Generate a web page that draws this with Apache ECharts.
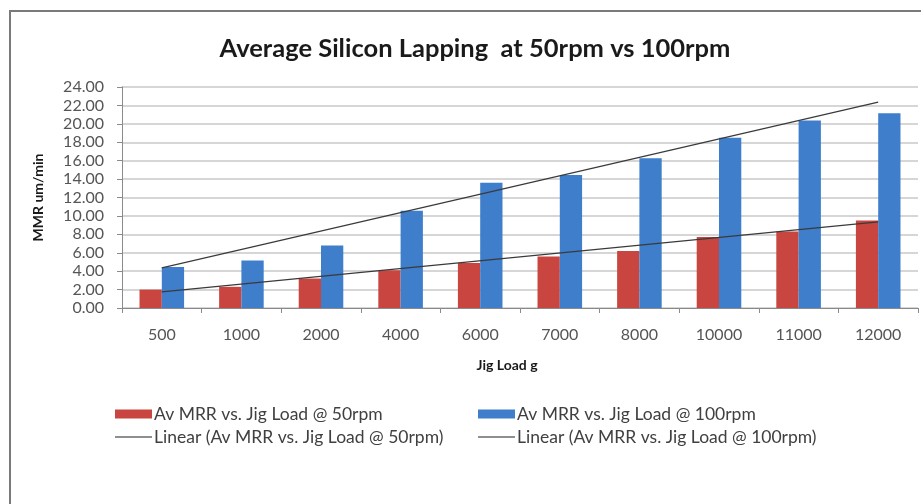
<!DOCTYPE html>
<html>
<head>
<meta charset="utf-8">
<script src="https://cdn.jsdelivr.net/npm/echarts@6/dist/echarts.min.js"></script>
<style>
html,body{margin:0;padding:0;background:#fff;}
#c{width:921px;height:504px;}
</style>
</head>
<body>
<div id="c"></div>
<script>
var categories = ['500','1000','2000','4000','6000','7000','8000','10000','11000','12000'];
var mrr50 = [2.0, 2.3, 3.2, 4.1, 4.9, 5.6, 6.2, 7.7, 8.3, 9.5];
var mrr100 = [4.45, 5.15, 6.8, 10.55, 13.6, 14.45, 16.25, 18.5, 20.35, 21.15];
var trend50 = [1.75, null, null, null, null, null, null, null, null, 9.35];
var trend100 = [4.35, null, null, null, null, null, null, null, null, 22.35];
var yTicks = [0, 24, 2];

var names = ['Av MRR vs. Jig Load @ 50rpm', 'Av MRR vs. Jig Load @ 100rpm',
  'Linear (Av MRR vs. Jig Load @ 50rpm)', 'Linear (Av MRR vs. Jig Load @ 100rpm)'];
var FONT = 'Lato';
var RED = '#c8463f', BLUE = '#3e7ecb', TREND = '#3a3a3a';

var chart = echarts.init(document.getElementById('c'), null, {renderer: 'canvas'});
function leg(name, left, top, isLine) {
  return {
    data: [{name: name, icon: 'rect', itemStyle: isLine ? {color: '#6a6a6a'} : undefined}],
    left: left, top: top, orient: 'horizontal',
    itemWidth: 37, itemHeight: isLine ? 1.5 : 9, itemGap: 4,
    textStyle: {fontFamily: FONT, fontSize: 17.5, color: '#404040', padding: [0, 0, 0, -3]},
    padding: 0, selectedMode: false
  };
}
chart.setOption({
  animation: false,
  backgroundColor: '#fff',
  graphic: [{
    type: 'rect', shape: {x: 10, y: 11, width: 940, height: 520},
    style: {fill: 'none', stroke: '#7a7a7a', lineWidth: 2}, silent: true
  }],
  title: {
    text: 'Average Silicon Lapping  at 50rpm vs 100rpm',
    left: 470, top: 31, textAlign: 'center',
    textStyle: {fontFamily: FONT, fontSize: 25.5, fontWeight: 'bold', color: '#1a1a1a'}
  },
  legend: [
    leg(names[0], 115, 405, false),
    leg(names[1], 478, 405, false),
    leg(names[2], 115, 428, true),
    leg(names[3], 478, 428, true)
  ],
  grid: {left: 122, right: 3, top: 87, bottom: 196, containLabel: false},
  xAxis: {
    type: 'category', data: categories,
    name: 'Jig Load g', nameLocation: 'middle', nameGap: 50,
    nameTextStyle: {fontFamily: FONT, fontSize: 14, fontWeight: 'bold', color: '#1a1a1a',
      padding: [0, 26, 0, 0]},
    axisLine: {lineStyle: {color: '#8a8a8a', width: 1}},
    axisTick: {show: true, length: 5, lineStyle: {color: '#8a8a8a'}},
    axisLabel: {fontFamily: FONT, fontSize: 16, color: '#555', margin: 19},
    splitLine: {show: false}
  },
  yAxis: {
    type: 'value', min: yTicks[0], max: yTicks[1], interval: yTicks[2],
    name: 'MMR um/min', nameLocation: 'middle', nameGap: 77, nameRotate: 90,
    nameTextStyle: {fontFamily: FONT, fontSize: 14, fontWeight: 'bold', color: '#1a1a1a'},
    axisLine: {show: true, lineStyle: {color: '#8a8a8a', width: 1}},
    axisTick: {show: true, length: 5, lineStyle: {color: '#8a8a8a'}},
    axisLabel: {fontFamily: FONT, fontSize: 16, color: '#555', margin: 18,
      formatter: function (v) { return v.toFixed(2); }},
    splitLine: {show: true, lineStyle: {color: '#d6d6d6', width: 2}}
  },
  series: [
    {name: names[0], type: 'bar', data: mrr50, barGap: '0%', barCategoryGap: '44%',
      itemStyle: {color: RED}, z: 2},
    {name: names[1], type: 'bar', data: mrr100,
      itemStyle: {color: BLUE}, z: 2},
    {name: names[2], type: 'line', data: trend50, connectNulls: true, symbol: 'none',
      lineStyle: {color: TREND, width: 1.2}, itemStyle: {color: TREND}, z: 5},
    {name: names[3], type: 'line', data: trend100, connectNulls: true, symbol: 'none',
      lineStyle: {color: TREND, width: 1.2}, itemStyle: {color: TREND}, z: 5}
  ]
});
</script>
</body>
</html>
